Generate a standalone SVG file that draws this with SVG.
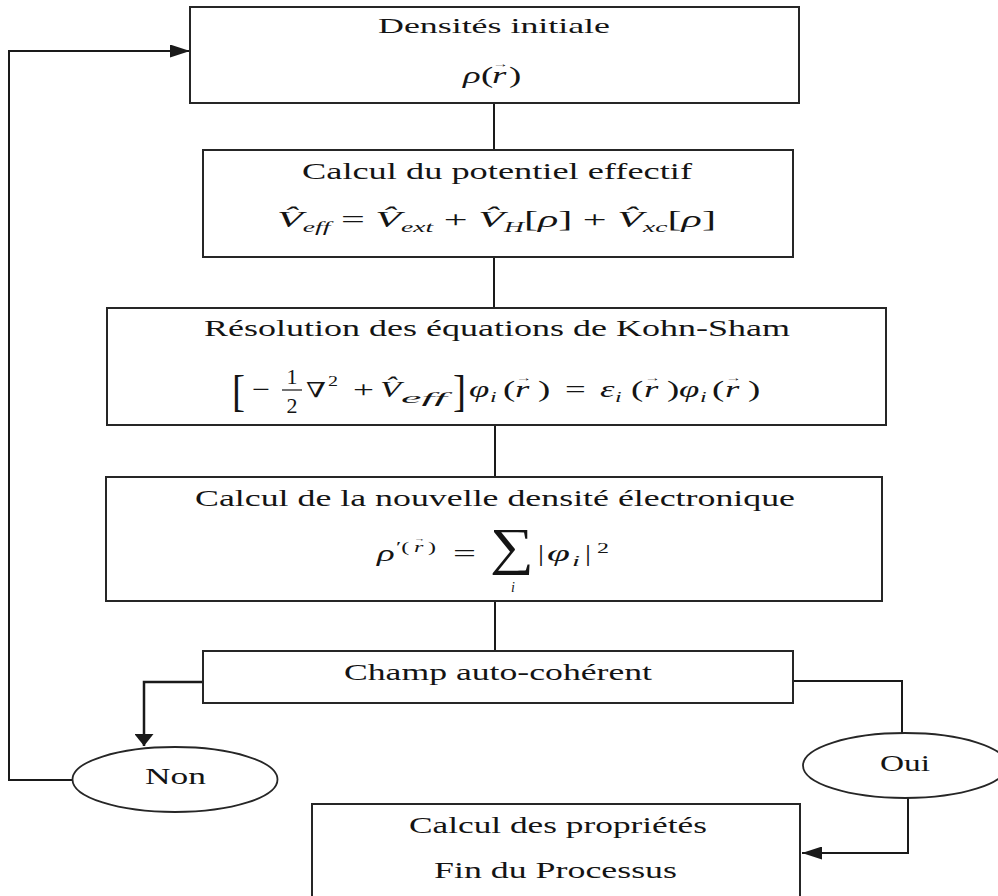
<svg xmlns="http://www.w3.org/2000/svg" width="998" height="896" viewBox="0 0 998 896">
<style>
.box{fill:#fff;stroke:#262626;stroke-width:2}
.ell{fill:#fff;stroke:#262626;stroke-width:1.8}
.lbl{font-family:"Liberation Serif","Times New Roman",serif;font-size:23px;fill:#141414}
.m{font-family:"Liberation Serif","DejaVu Serif",serif;font-size:23px;fill:#141414}
.it{font-style:italic}
.sub{font-size:15px}
.vec{font-style:normal;font-size:10px}
.con{fill:none;stroke:#1a1a1a;stroke-width:2}
</style>
<defs>
<marker id="ah" markerUnits="userSpaceOnUse" markerWidth="20" markerHeight="13" refX="20" refY="6.5" orient="auto"><path d="M0,0 L20,6.5 L0,13 z" fill="#1a1a1a"/></marker>
<marker id="ahw" markerUnits="userSpaceOnUse" markerWidth="12" markerHeight="19" refX="12" refY="9.5" orient="auto"><path d="M0,0 L12,9.5 L0,19 z" fill="#1a1a1a"/></marker>
</defs>

<g id="connectors">
<path class="con" d="M494,103 V150"/>
<path class="con" d="M494,257 V308"/>
<path class="con" d="M495,425 V477"/>
<path class="con" d="M495,601 V651"/>
<path class="con" d="M203,682 H144 V746" marker-end="url(#ahw)" style="stroke-width:2.5"/>
<path class="con" d="M793,681 H902 V733"/>
<path class="con" d="M908,798 V853 H802" marker-end="url(#ah)"/>
<path class="con" d="M73,780 H9 V51 H190" marker-end="url(#ah)"/>
</g>

<g id="densite-initiale">
<rect class="box" x="190" y="7" width="609" height="96"/>
<text class="lbl" x="378" y="33" textLength="232" lengthAdjust="spacingAndGlyphs" style="font-size:22px">Densités initiale</text>
<text class="m" transform="scale(1.6,1)"><tspan class="it" x="289.4" y="83">ρ</tspan><tspan x="300.6" y="83">(</tspan><tspan class="it" x="307.5" y="83">r</tspan><tspan class="vec" x="307.8" y="67">→</tspan><tspan x="318.1" y="83">)</tspan></text>
</g>

<g id="potentiel-effectif">
<rect class="box" x="203" y="150" width="590" height="107"/>
<text class="lbl" x="302" y="179" textLength="390" lengthAdjust="spacingAndGlyphs">Calcul du potentiel effectif</text>
<text class="m" x="277" y="227" textLength="439" lengthAdjust="spacingAndGlyphs"><tspan class="it">V&#x302;</tspan><tspan class="it sub" dy="5">eff</tspan><tspan dy="-5"> = </tspan><tspan class="it">V&#x302;</tspan><tspan class="it sub" dy="5">ext</tspan><tspan dy="-5"> + </tspan><tspan class="it">V&#x302;</tspan><tspan class="it sub" dy="5">H</tspan><tspan dy="-5">[</tspan><tspan class="it">ρ</tspan><tspan>] + </tspan><tspan class="it">V&#x302;</tspan><tspan class="it sub" dy="5">xc</tspan><tspan dy="-5">[</tspan><tspan class="it">ρ</tspan><tspan>]</tspan></text>
</g>

<g id="kohn-sham">
<rect class="box" x="107" y="308" width="779" height="117"/>
<text class="lbl" x="204" y="336" textLength="586" lengthAdjust="spacingAndGlyphs">Résolution des équations de Kohn-Sham</text>
<text class="m" x="232" y="406" textLength="13" lengthAdjust="spacingAndGlyphs" style="font-size:44px">[</text>
<text class="m" x="252" y="397" textLength="18" lengthAdjust="spacingAndGlyphs">−</text>
<text class="m" x="292" y="384" text-anchor="middle" style="font-size:22px">1</text>
<line x1="282" y1="390" x2="302" y2="390" stroke="#141414" stroke-width="1.2"/>
<text class="m" x="292" y="413" text-anchor="middle" style="font-size:22px">2</text>
<text class="m" x="306" y="397" textLength="20" lengthAdjust="spacingAndGlyphs" style="font-size:21px">∇</text>
<text class="m sub" x="328" y="386" textLength="10" lengthAdjust="spacingAndGlyphs">2</text>
<text class="m" x="353" y="397" textLength="21" lengthAdjust="spacingAndGlyphs">+</text>
<text class="m it" x="380" y="397" textLength="21" lengthAdjust="spacingAndGlyphs">V&#x302;</text>
<text class="m it sub" x="401" y="403" textLength="46" lengthAdjust="spacingAndGlyphs">eff</text>
<text class="m" x="453" y="406" textLength="13" lengthAdjust="spacingAndGlyphs" style="font-size:44px">]</text>
<text class="m" transform="scale(1.6,1)"><tspan class="it" x="293.1" y="397">φ</tspan><tspan class="it sub" x="306.3" y="402">i</tspan><tspan x="314.4" y="397">(</tspan><tspan class="it" x="321.9" y="397">r</tspan><tspan class="vec" x="322.4" y="381">→</tspan><tspan x="336.3" y="397">)</tspan><tspan x="353.1" y="397">=</tspan><tspan class="it" x="375" y="397">ε</tspan><tspan class="it sub" x="384.4" y="402">i</tspan><tspan x="394.4" y="397">(</tspan><tspan class="it" x="402.5" y="397">r</tspan><tspan class="vec" x="402.8" y="381">→</tspan><tspan x="416.9" y="397">)</tspan><tspan class="it" x="424.4" y="397">φ</tspan><tspan class="it sub" x="437.5" y="402">i</tspan><tspan x="445" y="397">(</tspan><tspan class="it" x="453.1" y="397">r</tspan><tspan class="vec" x="453.4" y="381">→</tspan><tspan x="467.5" y="397">)</tspan></text>
</g>

<g id="nouvelle-densite">
<rect class="box" x="106" y="477" width="776" height="124"/>
<text class="lbl" x="195" y="506" textLength="600" lengthAdjust="spacingAndGlyphs">Calcul de la nouvelle densité électronique</text>
<text class="m" transform="scale(1.6,1)"><tspan class="it" x="235.6" y="561">ρ</tspan><tspan class="sub" x="247.5" y="552">′(</tspan><tspan class="it sub" x="258.8" y="552">r</tspan><tspan class="vec" x="258.9" y="541" style="font-size:7px">→</tspan><tspan class="sub" x="267.5" y="552">)</tspan></text>
<text class="m" x="453" y="561" textLength="23" lengthAdjust="spacingAndGlyphs">=</text>
<text class="m" x="490" y="564" textLength="44" lengthAdjust="spacingAndGlyphs" style="font-size:52px">∑</text>
<text class="m it" x="513" y="592" text-anchor="middle" style="font-size:14px">i</text>
<text class="m" x="538" y="561" textLength="6" lengthAdjust="spacingAndGlyphs">|</text>
<text class="m it" x="547" y="561" textLength="23" lengthAdjust="spacingAndGlyphs">φ</text>
<text class="m it sub" x="572" y="566" textLength="8" lengthAdjust="spacingAndGlyphs">i</text>
<text class="m" x="585" y="561" textLength="6" lengthAdjust="spacingAndGlyphs">|</text>
<text class="m sub" x="597" y="553" textLength="12" lengthAdjust="spacingAndGlyphs">2</text>
</g>

<g id="champ-auto-coherent">
<rect class="box" x="203" y="651" width="590" height="52"/>
<text class="lbl" x="344" y="680" textLength="308" lengthAdjust="spacingAndGlyphs">Champ auto-cohérent</text>
</g>

<g id="non">
<ellipse class="ell" cx="175" cy="779.5" rx="102.5" ry="32.5"/>
<text class="lbl" x="145" y="784" textLength="61" lengthAdjust="spacingAndGlyphs">Non</text>
</g>

<g id="oui">
<ellipse class="ell" cx="905" cy="765.5" rx="102" ry="32.5"/>
<text class="lbl" x="880" y="771" textLength="50" lengthAdjust="spacingAndGlyphs">Oui</text>
</g>

<g id="proprietes">
<rect class="box" x="312" y="804" width="488" height="110"/>
<text class="lbl" x="409" y="833" textLength="298" lengthAdjust="spacingAndGlyphs">Calcul des propriétés</text>
<text class="lbl" x="434" y="878" textLength="243" lengthAdjust="spacingAndGlyphs">Fin du Processus</text>
</g>
</svg>
